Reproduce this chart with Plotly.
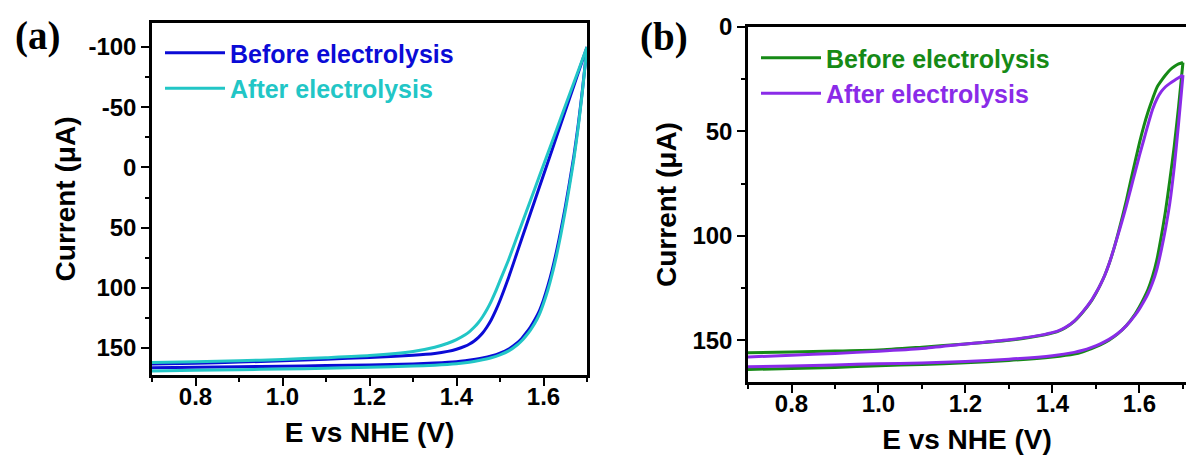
import plotly.graph_objects as go

# ---------------- data: panel (a) ----------------
# forward sweep (0.7 V -> 1.7 V)
E_a_fwd = [0.70, 0.80, 0.90, 1.00, 1.10, 1.20, 1.30, 1.35, 1.40, 1.42, 1.44,
           1.46, 1.48, 1.50, 1.52, 1.54, 1.55, 1.56, 1.57, 1.58, 1.59, 1.60,
           1.61, 1.62, 1.63, 1.64, 1.65, 1.66, 1.67, 1.68, 1.69, 1.70]
I_a_before_fwd = [166.4, 166.0, 165.6, 165.1, 164.6, 164.0, 163.2, 162.5, 161.4,
                  160.6, 159.6, 158.3, 156.6, 154.2, 150.8, 145.5, 142, 137.5,
                  132.5, 126.5, 119.5, 110, 98.5, 85, 69.5, 52, 33, 12, -10,
                  -36, -66, -100]
I_a_after_fwd = [169.0, 168.5, 168.0, 167.4, 166.8, 166.0, 165.0, 164.2, 163.0,
                 162.2, 161.1, 159.8, 158.1, 155.7, 152.4, 147.3, 144, 139.8,
                 135.1, 129.5, 122.5, 113, 101.8, 88.5, 73, 55.5, 36.2, 15,
                 -7.4, -34, -65, -100]

# reverse sweep (1.7 V -> 0.7 V)
E_a_rev = [1.70, 1.68, 1.66, 1.64, 1.62, 1.60, 1.58, 1.56, 1.54, 1.52, 1.50,
           1.49, 1.48, 1.47, 1.46, 1.45, 1.44, 1.43, 1.42, 1.40, 1.38, 1.35,
           1.30, 1.20, 1.10, 1.00, 0.90, 0.80, 0.70]
I_a_before_rev = [-100, -78.8, -57.5, -36.3, -15, 6.2, 27.4, 48.7, 69.9, 91.2,
                  110.5, 119, 126.5, 132.5, 137.5, 141.3, 144.3, 146.6, 148.4,
                  151, 152.8, 154.5, 156, 157.8, 159.3, 160.6, 161.7, 162.6,
                  163.3]
I_a_after_rev = [-100, -80.4, -60.8, -41.2, -21.6, -2, 17.6, 37.2, 56.8, 76.4,
                 94, 103, 111, 118, 124, 129, 133, 136.3, 139, 143, 146, 149.3,
                 152.8, 156.2, 158, 159.5, 160.6, 161.4, 162]

# ---------------- data: panel (b) ----------------
E_b_fwd = [0.70, 0.80, 0.90, 1.00, 1.10, 1.20, 1.30, 1.40, 1.45, 1.47, 1.49,
           1.51, 1.53, 1.55, 1.57, 1.59, 1.60, 1.61, 1.62, 1.63, 1.64, 1.65,
           1.66, 1.67, 1.68, 1.69, 1.70]
I_b_before_fwd = [164, 163.5, 163, 162.2, 161.6, 160.8, 159.7, 158, 156.6, 155.5,
                  154, 152.2, 150, 147, 143, 137.5, 134, 130, 125.5, 119.5,
                  111.5, 100.5, 88, 73, 57, 38, 17]
I_b_after_fwd = [162.7, 162.3, 161.8, 161.3, 160.9, 160.2, 159.1, 157.4, 155.8,
                 154.8, 153.4, 151.7, 149.6, 146.8, 143, 138, 135, 131.5, 127.5,
                 122.5, 116, 107, 96.5, 84, 67, 46, 23]

E_b_rev = [1.70, 1.69, 1.68, 1.67, 1.66, 1.65, 1.64, 1.63, 1.62, 1.61, 1.60,
           1.59, 1.58, 1.57, 1.56, 1.55, 1.54, 1.53, 1.52, 1.51, 1.50, 1.49,
           1.47, 1.45, 1.43, 1.41, 1.38, 1.35, 1.30, 1.20, 1.10, 1.00, 0.90,
           0.80, 0.70]
I_b_before_rev = [17, 17.7, 18.9, 20.6, 23, 25.8, 29, 34.5, 40.5, 47.5, 55.5,
                  64.5, 73.5, 83, 91.5, 99.5, 107, 113.5, 119, 123.5, 127.5, 131,
                  136.5, 141, 144, 146, 147.5, 148.6, 150, 151.8, 153.3, 154.7,
                  155.2, 155.6, 156]
I_b_after_rev = [23, 24.3, 25.6, 27, 28.6, 31, 34.5, 39.5, 46.5, 54, 61.5, 69.5,
                 77.5, 85.5, 93, 100, 107, 113.5, 119, 123.5, 127.3, 130.8,
                 136.3, 140.8, 143.8, 145.8, 147.3, 148.4, 149.8, 151.8, 154,
                 155.3, 156.3, 157.2, 158]

# ---------------- tick labels ----------------
x_ticks = [0.8, 1.0, 1.2, 1.4, 1.6]
y_ticks_a = [-100, -50, 0, 50, 100, 150]
y_ticks_b = [0, 50, 100, 150]

series_names = ["Before electrolysis", "After electrolysis"]
COL_A = ["#0b0bd6", "#22c6c6"]
COL_B = ["#168a16", "#8a2be8"]

FONT = "Arial, Liberation Sans, sans-serif"
SERIF = "Times New Roman, Liberation Serif, serif"

fig = go.Figure()


def add_loop(xa, ya, e_f, i_f, e_r, i_r, color, name, legend):
    label = f"<span style='color:{color}'><b>{name}</b></span>"
    line = dict(color=color, width=3, shape="spline", smoothing=0.6)
    fig.add_trace(go.Scatter(
        x=e_f, y=i_f, mode="lines", xaxis=xa, yaxis=ya, name=label,
        legend=legend, legendgroup=name + legend, line=line))
    fig.add_trace(go.Scatter(
        x=e_r, y=i_r, mode="lines", xaxis=xa, yaxis=ya, name=label,
        legend=legend, legendgroup=name + legend, showlegend=False, line=line))


add_loop("x", "y", E_a_fwd, I_a_before_fwd, E_a_rev, I_a_before_rev,
         COL_A[0], series_names[0], "legend")
add_loop("x", "y", E_a_fwd, I_a_after_fwd, E_a_rev, I_a_after_rev,
         COL_A[1], series_names[1], "legend")
add_loop("x2", "y2", E_b_fwd, I_b_before_fwd, E_b_rev, I_b_before_rev,
         COL_B[0], series_names[0], "legend2")
add_loop("x2", "y2", E_b_fwd, I_b_after_fwd, E_b_rev, I_b_after_rev,
         COL_B[1], series_names[1], "legend2")

W, H = 1186, 465


def px_x(p):
    return p / W


def px_y(p):
    return 1 - p / H


tickfont = dict(family=FONT, size=24, color="black", weight="bold")
titlefont = dict(family=FONT, size=28, color="black", weight="bold")

common_x = dict(
    automargin=False,
    showline=True, linecolor="black", linewidth=2.5, mirror=True,
    ticks="outside", ticklen=8, tickwidth=2, tickcolor="black",
    ticklabelstandoff=-10,
    tickvals=x_ticks, ticktext=[f"{v:.1f}" for v in x_ticks],
    minor=dict(ticks="outside", ticklen=4, tickwidth=2, tickcolor="black",
               dtick=0.1, tick0=0.7),
    showgrid=False, zeroline=False, tickfont=tickfont,
    title=dict(text="E vs NHE (V)", font=titlefont, standoff=14),
)
common_y = dict(
    automargin=False,
    showline=True, linecolor="black", linewidth=2.5,
    ticks="outside", ticklen=8, tickwidth=2, tickcolor="black",
    minor=dict(ticks="outside", ticklen=4, tickwidth=2, tickcolor="black",
               dtick=25, tick0=0),
    showgrid=False, zeroline=False, tickfont=tickfont,
)

fig.update_layout(
    template="none",
    width=W, height=H, autosize=False,
    margin=dict(l=0, r=0, t=0, b=0, pad=0),
    paper_bgcolor="white", plot_bgcolor="white",
    xaxis=dict(common_x, domain=[px_x(152), px_x(587)], range=[0.7, 1.7],
               anchor="y"),
    yaxis=dict(common_y, domain=[px_y(375), px_y(23)], range=[172.4, -120],
               anchor="x", mirror=True,
               tickvals=y_ticks_a, ticktext=[str(v) for v in y_ticks_a],
               title=dict(text="Current (\u03bcA)", font=titlefont, standoff=5)),
    xaxis2=dict(common_x, domain=[px_x(748), 1.0], range=[0.7, 1.707],
                anchor="y2"),
    yaxis2=dict(common_y, domain=[px_y(382), px_y(27)], range=[170, 0],
                anchor="x2", mirror=False,
                tickvals=y_ticks_b, ticktext=[str(v) for v in y_ticks_b],
                title=dict(text="Current (\u03bcA)", font=titlefont, standoff=8)),
    legend=dict(x=px_x(160), y=px_y(30), xanchor="left", yanchor="top",
                bgcolor="rgba(0,0,0,0)", borderwidth=0, itemwidth=60,
                font=dict(family=FONT, size=25), tracegroupgap=0),
    legend2=dict(x=px_x(756), y=px_y(35), xanchor="left", yanchor="top",
                 bgcolor="rgba(0,0,0,0)", borderwidth=0, itemwidth=60,
                 font=dict(family=FONT, size=25), tracegroupgap=0),
    annotations=[
        dict(text="<b>(a)</b>", x=px_x(37), y=px_y(36), xref="paper",
             yref="paper", showarrow=False, xanchor="center", yanchor="middle",
             font=dict(family=SERIF, size=39, color="black")),
        dict(text="<b>(b)</b>", x=px_x(664), y=px_y(37), xref="paper",
             yref="paper", showarrow=False, xanchor="center", yanchor="middle",
             font=dict(family=SERIF, size=39, color="black")),
    ],
)

fig.write_html("out.html")
